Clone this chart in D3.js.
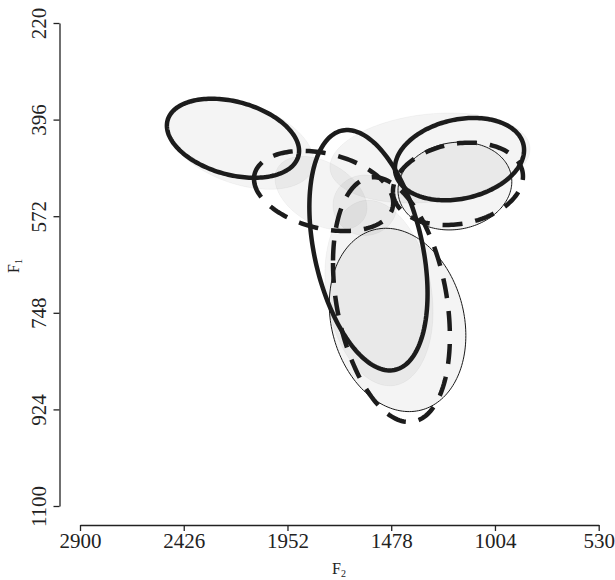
<!DOCTYPE html>
<html>
<head>
<meta charset="utf-8">
<script src="https://cdn.jsdelivr.net/npm/d3@7"></script>
<style>
body { margin: 0; background: #fff; }
text { font-family: "Liberation Serif", "Times New Roman", serif; fill: #222; }
</style>
</head>
<body>
<div id="chart"></div>
<script>

var f2Ticks = [2900, 2426, 1952, 1478, 1004, 530];
var f1Ticks = [220, 396, 572, 748, 924, 1100];

// each ellipse: [F2 centre, F1 centre, F2 spread, F1 spread, correlation]
var shadeEllipses = [
    [2169, 439, 338, 84, -0.4],
    [1301, 466, 457, 82, 0.2],
    [1799, 530, 210, 67, -0.4],
    [1598, 552, 146, 55, 0],
    [1534, 712, 247, 169, -0.2]
];
var thinEllipses = [
    [1187, 517, 260, 80, 0.1],
    [1449, 761, 312, 167, -0.17]
];
var solidEllipses = [
    [2201, 430, 302, 72, -0.32],
    [1582, 634, 270, 219, -0.36],
    [1166, 468, 295, 75, 0.22]
];
var dashedEllipses = [
    [1787, 526, 318, 73, -0.3],
    [1173, 513, 297, 75, 0.18],
    [1477, 724, 267, 223, -0.3]
];

var width = 615,
    height = 580;

var svg = d3.select("#chart").append("svg")
    .attr("width", width)
    .attr("height", height);

var x = d3.scaleLinear().domain([2900, 530]).range([80, 598.7]);
var y = d3.scaleLinear().domain([220, 1100]).range([23, 506]);

var line = d3.line().curve(d3.curveLinearClosed);

// points round an ellipse, worked out in Hz then put through the scales
function ellipsePath(e) {
    var pts = [];
    var k = Math.sqrt(1 - e[4] * e[4]);
    for (var i = 0; i < 180; i++) {
        var t = 2 * Math.PI * i / 180;
        var f2 = e[0] + e[2] * Math.cos(t);
        var f1 = e[1] + e[3] * (e[4] * Math.cos(t) + k * Math.sin(t));
        pts.push([x(f2), y(f1)]);
    }
    return line(pts);
}

var g = svg.append("g");

g.selectAll(".shade")
    .data(shadeEllipses)
    .enter().append("path")
    .attr("class", "shade")
    .attr("d", ellipsePath)
    .attr("fill", "#000")
    .attr("fill-opacity", 0.045)
    .attr("stroke", "#000")
    .attr("stroke-opacity", 0.04);

g.selectAll(".thin")
    .data(thinEllipses)
    .enter().append("path")
    .attr("class", "thin")
    .attr("d", ellipsePath)
    .attr("fill", "#000")
    .attr("fill-opacity", 0.045)
    .attr("stroke", "#1a1a1a")
    .attr("stroke-width", 1);

g.selectAll(".solid")
    .data(solidEllipses)
    .enter().append("path")
    .attr("class", "solid")
    .attr("d", ellipsePath)
    .attr("fill", "none")
    .attr("stroke", "#1c1c1c")
    .attr("stroke-width", 4.5);

g.selectAll(".dashed")
    .data(dashedEllipses)
    .enter().append("path")
    .attr("class", "dashed")
    .attr("d", ellipsePath)
    .attr("fill", "none")
    .attr("stroke", "#1c1c1c")
    .attr("stroke-width", 4.5)
    .attr("stroke-dasharray", "20,13");

// axes
var xAxis = svg.append("g")
    .attr("transform", "translate(0,525)")
    .call(d3.axisBottom(x).tickValues(f2Ticks).tickSize(6).tickSizeOuter(0).tickFormat(d3.format("d")));

xAxis.selectAll("text")
    .attr("y", 23)
    .attr("dy", 0)
    .style("font-size", "21px");

var yAxis = svg.append("g")
    .attr("transform", "translate(59.5,0)")
    .call(d3.axisLeft(y).tickValues(f1Ticks).tickSize(6).tickSizeOuter(0).tickFormat(d3.format("d")));

yAxis.selectAll("text")
    .attr("transform", "rotate(-90)")
    .attr("x", 0)
    .attr("y", -14)
    .attr("dy", 0)
    .attr("text-anchor", "middle")
    .style("font-size", "21px");

svg.selectAll(".domain, .tick line")
    .attr("stroke", "#222")
    .attr("stroke-width", 1.3);
svg.selectAll(".tick text").attr("fill", "#222").style("font-family", "Liberation Serif, serif");

// axis titles
var xt = svg.append("text")
    .attr("x", 339)
    .attr("y", 574)
    .attr("text-anchor", "middle")
    .style("font-size", "16px");
xt.append("tspan").text("F");
xt.append("tspan").attr("dy", 3).style("font-size", "10px").text("2");

var yt = svg.append("text")
    .attr("transform", "translate(19,266) rotate(-90)")
    .attr("text-anchor", "middle")
    .style("font-size", "16px");
yt.append("tspan").text("F");
yt.append("tspan").attr("dy", 3).style("font-size", "10px").text("1");

</script>
</body>
</html>
